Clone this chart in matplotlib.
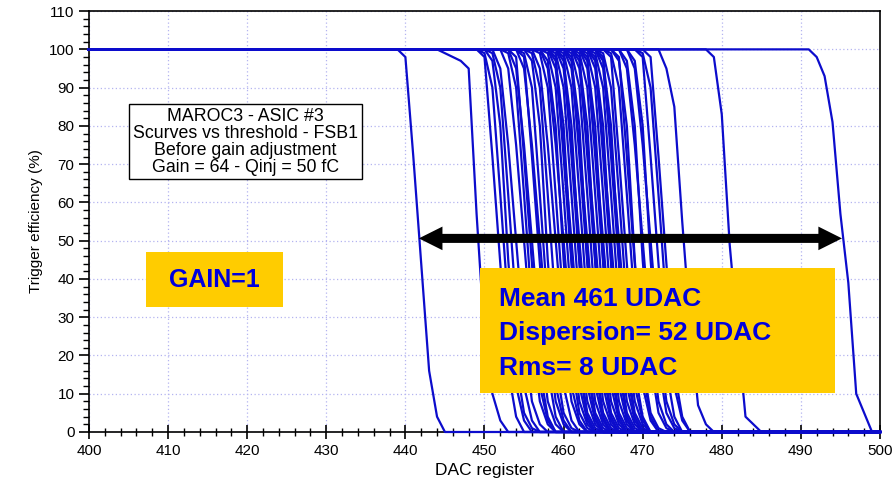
import numpy as np
import matplotlib
matplotlib.use("Agg")
import matplotlib.pyplot as plt
from matplotlib.patches import Rectangle, FancyArrowPatch

plt.rcParams['font.family'] = ['Liberation Sans', 'DejaVu Sans']

# DAC scan points
dac = np.arange(400, 501)

# falling edge shapes (value at each DAC step after the last 100 %)
profiles = {
    'A': [100, 98, 72, 44, 16, 4, 0],
    'B': [100, 95, 75, 50, 25, 8, 2, 0],
    'C': [100, 99, 90, 62, 33, 12, 3, 0],
    'D': [100, 97, 80, 45, 18, 5, 1, 0],
    'E': [100, 99, 98, 97, 95, 57, 25, 10, 3, 0],
    'F': [100, 95, 85, 55, 28, 7, 2, 0],
    'G': [100, 98, 83, 49, 26, 4, 2, 0],
    'H': [100, 98, 93, 81, 57, 39, 10, 5, 0],
}

# last DAC value at 100 % for each channel, and its edge shape
starts = [439, 444, 449, 449, 450, 450, 452, 453, 452, 453, 454, 454, 454, 455,
          456, 456, 457, 458, 457, 458, 458, 459, 458, 459, 459, 460, 459, 460,
          460, 461, 460, 461, 461, 462, 461, 462, 462, 463, 462, 463, 463, 464,
          463, 464, 464, 465, 464, 466, 466, 467, 468, 469, 470, 469, 472, 478, 491,
          451, 455, 457, 465, 467, 468]
kinds = ['A', 'E', 'A', 'C', 'D', 'C', 'B', 'A', 'C', 'B', 'A', 'B', 'C', 'C',
         'B', 'C', 'B', 'A', 'C', 'D', 'B', 'A', 'C', 'D', 'B', 'A', 'C', 'B',
         'D', 'A', 'C', 'D', 'B', 'A', 'C', 'D', 'B', 'A', 'C', 'D', 'B', 'A',
         'C', 'D', 'B', 'A', 'C', 'A', 'D', 'D', 'D', 'A', 'A', 'C', 'F', 'G', 'H',
         'B', 'D', 'D', 'C', 'B', 'B']

title_lines = ["MAROC3 - ASIC #3", "Scurves vs threshold - FSB1",
               "Before gain adjustment", "Gain = 64 - Qinj = 50 fC"]
stats_lines = ["Mean 461 UDAC", "Dispersion= 52 UDAC", "Rms= 8 UDAC"]


def build_curve(start, kind):
    y = np.zeros(len(dac))
    y[dac <= start] = 100
    for i, v in enumerate(profiles[kind]):
        y[dac == start + i] = v
    return y


fig = plt.figure(figsize=(8.92, 4.83), dpi=100)
ax = fig.add_axes([0.0998, 0.1056, 0.8867, 0.8714])

for s, k in zip(starts, kinds):
    ax.plot(dac, build_curve(s, k), color='#0C0CCC', lw=1.6, clip_on=False, zorder=3)

ax.set_xlim(400, 500)
ax.set_ylim(0, 110)
ax.set_xticks(np.arange(400, 501, 10))
ax.set_yticks(np.arange(0, 111, 10))
ax.set_xticks(np.arange(400, 501, 2), minor=True)
ax.set_yticks(np.arange(0, 111, 2), minor=True)
ax.tick_params(axis='both', which='major', labelsize=11, width=1.2)
ax.tick_params(axis='y', which='major', direction='out', length=7)
ax.tick_params(axis='y', which='minor', direction='out', length=4, width=1)
ax.tick_params(axis='x', which='major', direction='inout', length=10)
ax.tick_params(axis='x', which='minor', direction='inout', length=6, width=1)
ax.grid(True, which='major', color='#B4B4F0', linestyle=(0, (1, 2)), lw=0.9)
for sp in ax.spines.values():
    sp.set_linewidth(1.2)

ax.set_xlabel("DAC register", fontsize=12.5)
ax.set_ylabel("Trigger efficiency (%)", fontsize=11)

# description box
ax.text(419.8, 75.8, "\n".join(title_lines), ha='center', va='center', fontsize=12.8,
        linespacing=0.98, zorder=5,
        bbox=dict(boxstyle='square,pad=0.22', fc='white', ec='black', lw=1))

# yellow labels
ax.add_patch(Rectangle((407.2, 32.7), 17.3, 14.3, fc='#FFCC00', ec='none', zorder=4))
ax.text(415.9, 39.8, "GAIN=1", ha='center', va='center', fontsize=18,
        fontweight='bold', color='#0000DD', zorder=5)

ax.add_patch(Rectangle((449.4, 10.2), 44.9, 32.7, fc='#FFCC00', ec='none', zorder=4))
for yv, line in zip([34.8, 25.9, 16.7], stats_lines):
    ax.text(451.8, yv, line, ha='left', va='center', fontsize=19,
            fontweight='bold', color='#0000DD', zorder=5)

# double arrow showing the spread
mid = (468.5, 50.6)
for end in [(441.7, 50.6), (495.2, 50.6)]:
    ax.add_patch(FancyArrowPatch(mid, end, arrowstyle='simple,tail_width=6.5,head_width=17,head_length=17',
                                 mutation_scale=1, fc='black', ec='none', lw=0,
                                 shrinkA=0, shrinkB=0, zorder=6))

fig.savefig("out.png", dpi=100)
